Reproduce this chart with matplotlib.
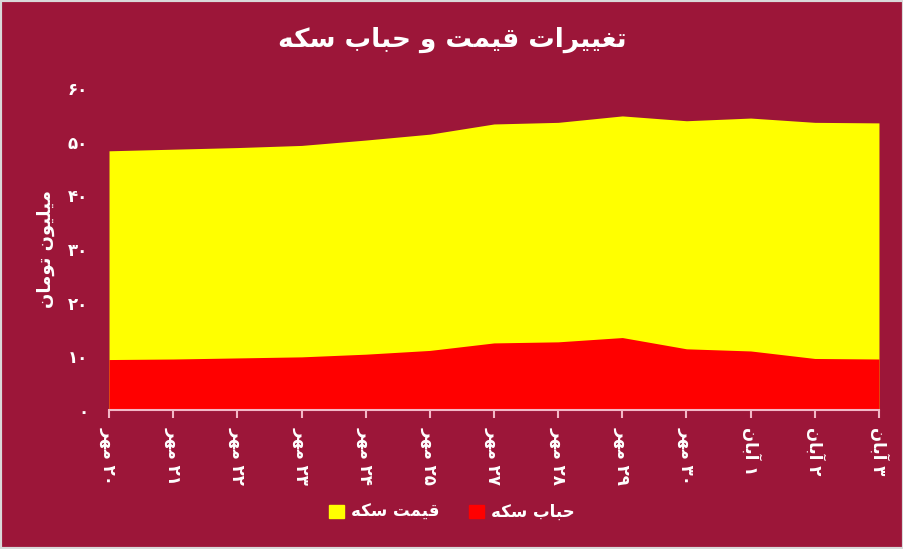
import re
import matplotlib
matplotlib.use('Agg')
import matplotlib.pyplot as plt
from matplotlib.patches import Patch

# dates (logical Persian text), coin price and coin bubble, million toman
dates = ['۲۰ مهر', '۲۱ مهر', '۲۲ مهر', '۲۳ مهر', '۲۴ مهر', '۲۵ مهر', '۲۷ مهر',
         '۲۸ مهر', '۲۹ مهر', '۳۰ مهر', '۱ آبان', '۲ آبان', '۳ آبان']
price = [48.3, 48.6, 48.9, 49.3, 50.3, 51.4, 53.3, 53.6, 54.8, 53.9, 54.4, 53.6, 53.5]
bubble = [9.4, 9.5, 9.7, 9.9, 10.4, 11.1, 12.5, 12.7, 13.5, 11.4, 11.0, 9.6, 9.5]
yticks = [0, 10, 20, 30, 40, 50, 60]

title = 'تغییرات قیمت و حباب سکه'
ylabel = 'میلیون تومان'
price_name = 'قیمت سکه'
bubble_name = 'حباب سکه'

BG = '#9c1639'

# presentation forms: isolated, final, initial, medial
FORMS = {
    'ا': ('\uFE8D', '\uFE8E'), 'آ': ('\uFE81', '\uFE82'),
    'ر': ('\uFEAD', '\uFEAE'), 'و': ('\uFEED', '\uFEEE'),
    'ب': ('\uFE8F', '\uFE90', '\uFE91', '\uFE92'),
    'ت': ('\uFE95', '\uFE96', '\uFE97', '\uFE98'),
    'ح': ('\uFEA1', '\uFEA2', '\uFEA3', '\uFEA4'),
    'س': ('\uFEB1', '\uFEB2', '\uFEB3', '\uFEB4'),
    'غ': ('\uFECD', '\uFECE', '\uFECF', '\uFED0'),
    'ق': ('\uFED5', '\uFED6', '\uFED7', '\uFED8'),
    'ل': ('\uFEDD', '\uFEDE', '\uFEDF', '\uFEE0'),
    'م': ('\uFEE1', '\uFEE2', '\uFEE3', '\uFEE4'),
    'ن': ('\uFEE5', '\uFEE6', '\uFEE7', '\uFEE8'),
    'ه': ('\uFEE9', '\uFEEA', '\uFEEB', '\uFEEC'),
    'ی': ('\uFBFC', '\uFBFD', '\uFBFE', '\uFBFF'),
    'ک': ('\uFB8E', '\uFB8F', '\uFB90', '\uFB91'),
}


def fa(text):
    # tiny reshaper: join letters, then lay out right to left
    out = []
    for i, ch in enumerate(text):
        if ch not in FORMS:
            out.append(ch)
            continue
        prev = text[i - 1] if i > 0 else ''
        nxt = text[i + 1] if i + 1 < len(text) else ''
        f = FORMS[ch]
        jp = prev in FORMS and len(FORMS[prev]) == 4
        jn = len(f) == 4 and nxt in FORMS
        if jp and jn:
            out.append(f[3])
        elif jp:
            out.append(f[1])
        elif jn:
            out.append(f[2])
        else:
            out.append(f[0])
    vis = ''.join(out)[::-1]
    return re.sub('[۰-۹0-9]+', lambda m: m.group(0)[::-1], vis)


def fa_num(n):
    return str(n).translate(str.maketrans('0123456789', '۰۱۲۳۴۵۶۷۸۹'))


plt.rcParams['font.family'] = ['DejaVu Sans']
plt.rcParams['font.weight'] = 'bold'

fig = plt.figure(figsize=(9.04, 5.49), dpi=100, facecolor=BG)
ax = fig.add_axes([0.1206, 0.2532, 0.8517, 0.5865])
ax.set_facecolor(BG)

x = list(range(len(dates)))
ax.fill_between(x, 0, price, color='#ffff00', lw=0)
ax.fill_between(x, 0, bubble, color='#ff0000', lw=0)

ax.set_xlim(0, len(dates) - 1)
ax.set_ylim(0, 60)
ax.set_yticks(yticks)
ax.set_yticklabels([fa_num(v) for v in yticks], color='white', fontsize=12, fontweight='bold')
ax.set_xticks(x)
ax.set_xticklabels([fa(d) for d in dates], rotation=-90, color='white', fontsize=12,
                   fontweight='bold', va='top', ha='center')
ax.tick_params(axis='y', length=0, pad=15)
ax.tick_params(axis='x', length=6, color='#f2b8c6', width=1.5, pad=6)
for s in ['top', 'right', 'left']:
    ax.spines[s].set_visible(False)
ax.spines['bottom'].set_color('#f2b8c6')
ax.spines['bottom'].set_linewidth(1.5)

ax.set_ylabel(fa(ylabel), color='white', fontsize=13, fontweight='bold', labelpad=9)

fig.text(0.5, 0.927, fa(title), color='white', fontsize=19, fontweight='bold',
         ha='center', va='center')

handles = [Patch(color='#ffff00', label=fa(price_name)),
           Patch(color='#ff0000', label=fa(bubble_name))]
fig.legend(handles=handles, loc='center', bbox_to_anchor=(0.5, 0.067), ncol=2,
           frameon=False, fontsize=12, handlelength=0.9, handleheight=0.9,
           columnspacing=1.8, handletextpad=0.4, labelcolor='white')

border = plt.Rectangle((0, 0), 1, 1, transform=fig.transFigure, fill=False,
                       edgecolor='#d9d9d9', lw=3)
fig.patches.append(border)

fig.savefig('out.png', dpi=100, facecolor=BG)
